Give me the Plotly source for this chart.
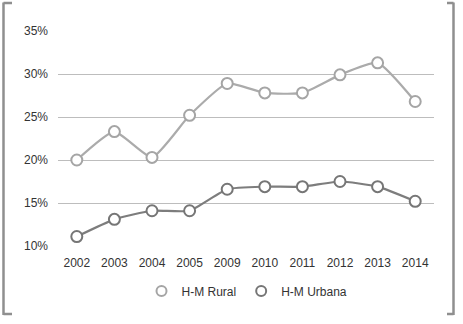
import plotly.graph_objects as go

years = ["2002", "2003", "2004", "2005", "2009", "2010", "2011", "2012", "2013", "2014"]
rural = [20.0, 23.3, 20.3, 25.2, 28.9, 27.8, 27.8, 29.9, 31.3, 26.8]
urbana = [11.1, 13.1, 14.1, 14.1, 16.6, 16.9, 16.9, 17.5, 16.9, 15.2]
y_ticks = [10, 15, 20, 25, 30, 35]
y_labels = [f"{v}%" for v in y_ticks]
series_names = ["H-M Rural", "H-M Urbana"]

W, H = 463, 324
L, R, T, B = 58, 29, 31, 78
pw, ph = W - L - R, H - T - B


def px(x):
    return (x - L) / pw


def py(y):
    return (H - B - y) / ph


line_cols = ["#ababab", "#7d7d7d"]
mark_cols = ["#a5a5a5", "#767676"]

fig = go.Figure()
for name, vals, lc, mc in zip(series_names, [rural, urbana], line_cols, mark_cols):
    fig.add_trace(go.Scatter(
        x=years, y=vals, name=name, mode="lines+markers", showlegend=False,
        line=dict(color=lc, width=2.2, shape="spline", smoothing=0.5),
        marker=dict(size=11, color="white", line=dict(color=mc, width=2)),
        cliponaxis=False,
    ))
for name, mc in zip(series_names, mark_cols):
    fig.add_trace(go.Scatter(
        x=[None], y=[None], name=name, mode="markers", showlegend=True,
        marker=dict(size=10, color="white", line=dict(color=mc, width=2)),
    ))

shapes = []
bc = "#8f8f8f"
for xv, xt in [(3.5, 12), (453.5, 447)]:
    shapes.append(dict(type="line", xref="paper", yref="paper", x0=px(xv), x1=px(xv),
                       y0=py(2.5), y1=py(315), line=dict(color=bc, width=2.5)))
    for yy in (3, 314):
        shapes.append(dict(type="line", xref="paper", yref="paper", x0=px(xv), x1=px(xt),
                           y0=py(yy), y1=py(yy), line=dict(color=bc, width=2.5)))

fig.update_layout(
    width=W, height=H, autosize=False,
    margin=dict(l=L, r=R, t=T, b=B, autoexpand=False),
    paper_bgcolor="white", plot_bgcolor="white",
    font=dict(family="Liberation Sans, Arial, sans-serif", size=12, color="#333333"),
    showlegend=True,
    legend=dict(orientation="h", x=px(247), xanchor="center", y=py(291), yanchor="middle",
                font=dict(size=12, color="#333333"), itemwidth=30),
    xaxis=dict(type="category", range=[-0.5, len(years) - 0.5], showgrid=False,
               zeroline=False, showline=False, ticks="", ticklabelstandoff=8,
               tickfont=dict(size=12, color="#333333")),
    yaxis=dict(range=[10, 35], tickvals=y_ticks, ticktext=y_labels, showgrid=True,
               gridcolor="#bdbdbd", gridwidth=1, zeroline=False, showline=False,
               ticks="", ticklabelstandoff=9, tickfont=dict(size=12, color="#333333")),
    shapes=shapes,
)

fig.write_html(
    "out.html",
    config={"responsive": False, "displayModeBar": False},
    post_script="document.body.style.margin='0';document.body.style.overflow='hidden';",
)
